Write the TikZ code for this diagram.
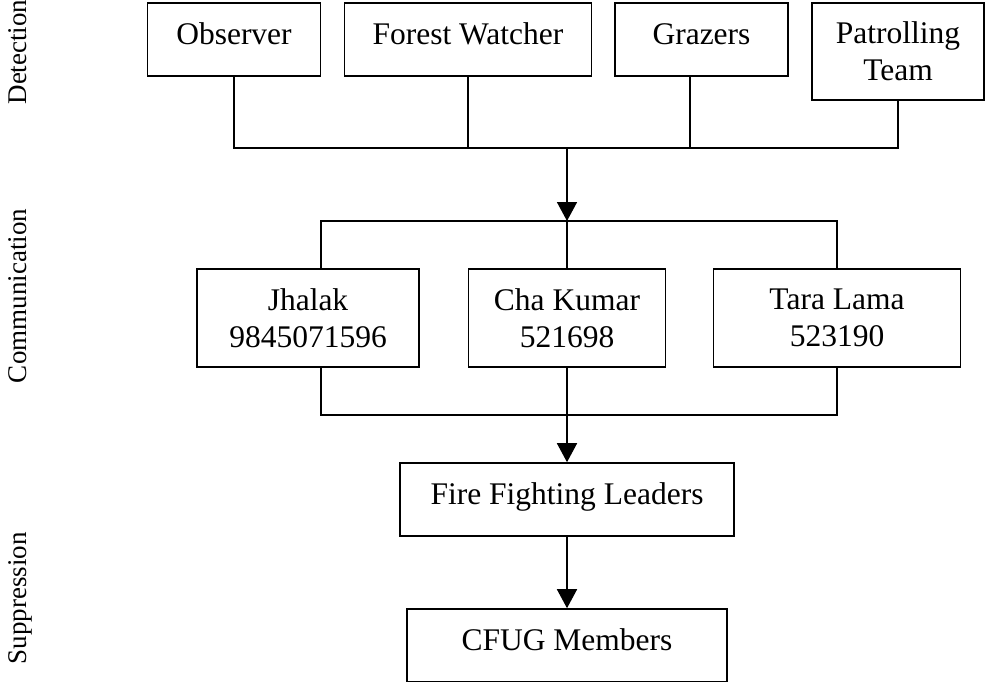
\documentclass[tikz,border=0pt]{standalone}
\usepackage{fontspec}
\setmainfont{Liberation Serif}
\usetikzlibrary{arrows.meta}
\tikzset{
  box/.style={draw, line width=1.6pt, inner sep=0pt, align=center,
    font=\fontsize{31.5}{37}\selectfont},
  oneline/.style={text height=22pt, text depth=12pt},
  conn/.style={line width=1.6pt},
  arr/.style={conn, -{Triangle[length=19pt,width=20pt]}},
  side/.style={rotate=90, anchor=base, inner sep=0pt,
    font=\fontsize{27}{32}\selectfont}
}
\begin{document}
\begin{tikzpicture}[x=1pt,y=-1pt]
\useasboundingbox (0,0) rectangle (985,681);
% side labels
\node[side] (ldet) at (26,52) {Detection};
\node[side] (lcom) at (26,296) {Communication};
\node[side] (lsup) at (26,598) {Suppression};
% detection row
\node[box, oneline, minimum width=173pt, minimum height=73pt] (obs) at (234,39.5) {Observer};
\node[box, oneline, minimum width=247pt, minimum height=73pt] (fw) at (468,39.5) {Forest Watcher};
\node[box, oneline, minimum width=173pt, minimum height=73pt] (graz) at (701.5,39.5) {Grazers};
\node[box, minimum width=172pt, minimum height=97pt] (pat) at (898,51.5) {Patrolling\\Team};
% communication row
\node[box, minimum width=222pt, minimum height=98pt] (jh) at (308,318) {Jhalak\\9845071596};
\node[box, minimum width=197pt, minimum height=98pt] (cha) at (567,318) {Cha Kumar\\521698};
\node[box, minimum width=247pt, minimum height=98pt] (tara) at (837,318) {Tara Lama\\523190};
% suppression
\node[box, oneline, minimum width=334pt, minimum height=73pt] (ffl) at (567,499.5) {Fire Fighting Leaders};
\node[box, oneline, minimum width=320pt, minimum height=72.5pt] (cfug) at (567,645.25) {CFUG Members};
% junctions
\coordinate (j1) at (567,148);
\coordinate (j2) at (567,221);
\coordinate (j3) at (567,415);
\coordinate (gz) at ([xshift=-11.5pt]graz.south);
\coordinate (jt) at ([xshift=13pt]jh.north);
\coordinate (jb) at ([xshift=13pt]jh.south);
% connectors
\draw[conn] (obs.south) |- (j1) -| (pat.south);
\draw[conn] (fw.south) -- (fw.south |- j1);
\draw[conn] (gz) -- (gz |- j1);
\draw[arr] (j1) -- (j2);
\draw[conn] (jt) |- (j2) -| (tara.north);
\draw[conn] (j2) -- (cha.north);
\draw[conn] (jb) |- (j3) -| (tara.south);
\draw[conn] (cha.south) -- (j3);
\draw[arr] (j3) -- (ffl.north);
\draw[arr] (ffl.south) -- (cfug.north);
\end{tikzpicture}
\end{document}
